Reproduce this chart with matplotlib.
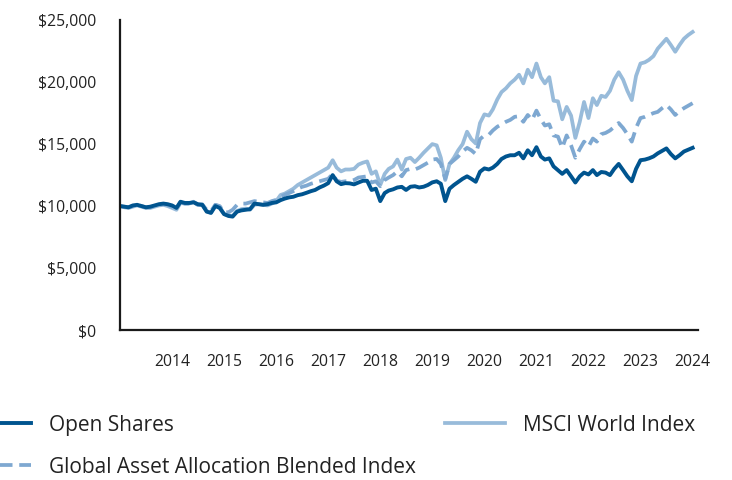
import pandas as pd
import matplotlib
matplotlib.use('Agg')
import matplotlib.pyplot as plt

plt.rcParams['font.family'] = ['Open Sans', 'DejaVu Sans']

# growth of $10,000, month-end values from Dec 2013
open_shares = [
    10000, 9950, 9900, 10050, 10100, 10000, 9900, 9950, 10050, 10150, 10200, 10150, 10050,
    9850, 10350, 10250, 10250, 10300, 10150, 10100, 9550, 9450, 10000, 9850, 9350, 9200,
    9150, 9550, 9650, 9700, 9750, 10200, 10150, 10100, 10150, 10250, 10300, 10480,
    10600, 10700, 10750, 10880, 10950, 11070, 11200, 11300, 11500, 11650, 11850, 12500,
    12000, 11770, 11850, 11830, 11750, 11900, 12040, 12040, 11300, 11400, 10400, 11050,
    11250, 11350, 11500, 11550, 11300, 11560, 11600, 11500, 11560, 11700, 11910, 12000, 11800, 10400,
    11400, 11700, 11950, 12200, 12400, 12200, 11960, 12770, 13040, 12950, 13100, 13400, 13800, 14000,
    14100, 14100, 14300, 13850, 14500, 14100, 14750, 14000, 13750, 13850, 13200, 12900, 12600, 12900,
    12400, 11900, 12400, 12700, 12550, 12900, 12500, 12750, 12700, 12500, 13000, 13400, 12900, 12400, 12000, 13000,
    13700, 13750, 13850, 14000, 14250, 14450, 14650, 14200, 13850, 14100, 14400, 14550, 14700,
]
msci_world = [
    10000, 9900, 9850, 9950, 10050, 9950, 9850, 9850, 9950, 10050, 10100, 10000, 9850,
    9700, 10250, 10200, 10200, 10350, 10100, 10150, 9600, 9450, 10100, 9950, 9350, 9250,
    9200, 9600, 9750, 9800, 9700, 10100, 10150, 10100, 10050, 10200, 10400, 10900,
    11000, 11200, 11400, 11700, 11900, 12100, 12300, 12500, 12700, 12900, 13100, 13700,
    13100, 12800, 12950, 12950, 13000, 13350, 13500, 13600, 12600, 12800, 11700, 12600,
    13000, 13200, 13750, 12950, 13800, 13900, 13550, 13900, 14300, 14650, 15000, 14900, 13900, 12100,
    13400, 13900, 14500, 15000, 16000, 15400, 15050, 16700, 17400, 17300, 17800, 18600, 19200, 19500,
    19900, 20200, 20600, 19900, 21000, 20400, 21500, 20400, 19900, 20400, 18500, 18450, 17000, 18000,
    17300, 15500, 16800, 18400, 17100, 18700, 18150, 18900, 18800, 19300, 20200, 20800, 20200, 19300, 18550, 20500,
    21500, 21600, 21800, 22100, 22700, 23100, 23500, 23000, 22450, 23000, 23500, 23800, 24050,
]
blended = [
    10000, 9950, 9900, 10000, 10100, 10000, 9900, 9900, 10000, 10100, 10150, 10100, 9950,
    9800, 10300, 10200, 10200, 10300, 10100, 10100, 9700, 9600, 10100, 10000, 9500, 9500,
    9700, 10100, 10200, 10200, 10300, 10400, 10350, 10300, 10250, 10400, 10500, 10750,
    10900, 11050, 11200, 11400, 11550, 11650, 11800, 11900, 12000, 12100, 12200, 12600,
    12050, 11950, 12000, 12000, 12100, 12300, 12350, 12400, 11900, 12000, 11600, 12100,
    12300, 12500, 12800, 12400, 12900, 13000, 12950, 13100, 13300, 13500, 13750, 13800, 13400, 12200,
    13400, 13700, 14000, 14400, 14700, 14500, 14200, 15400, 15700, 15750, 16100, 16400, 16600, 16800,
    16950, 17200, 17250, 16800, 17350, 16950, 17700, 17000, 16500, 16600, 15700, 15600, 14700, 15700,
    14900, 13900, 14600, 15200, 14800, 15450, 15200, 15800, 15900, 16100, 16400, 16700, 16300, 15800, 15200, 16300,
    17100, 17200, 17350, 17500, 17600, 17900, 18150, 17800, 17350, 17650, 17900, 18100, 18300,
]
years = list(range(2014, 2025))
y_ticks = [0, 5000, 10000, 15000, 20000, 25000]

dates = pd.date_range('2013-12-31', periods=len(open_shares), freq='ME')
df = pd.DataFrame({'open': open_shares, 'msci': msci_world, 'blend': blended}, index=dates)

dark = '#00548F'
light = '#98BBDA'
mid = '#7EA8D1'

fig = plt.figure(figsize=(7.32, 4.8), dpi=100)
ax = fig.add_axes([0.164, 0.3125, 0.79, 0.6455])

l_msci, = ax.plot(df.index, df['msci'], color=light, lw=2.7, label='MSCI World Index')
l_blend, = ax.plot(df.index, df['blend'], color=mid, lw=2.7, dashes=(3.6, 1.8),
                   label='Global Asset Allocation Blended Index')
l_open, = ax.plot(df.index, df['open'], color=dark, lw=2.8, label='Open Shares')

ax.set_ylim(0, 25000)
ax.set_xlim(dates[0], dates[-1] + pd.Timedelta(days=40))
ax.set_yticks(y_ticks)
ax.set_yticklabels(['${:,.0f}'.format(v) for v in y_ticks])
ax.set_xticks(pd.to_datetime([f'{y}-12-31' for y in years]))
ax.set_xticklabels([str(y) for y in years])
ax.tick_params(axis='both', length=0, labelsize=11.3, colors='#222222')
ax.tick_params(axis='y', pad=17)
ax.tick_params(axis='x', pad=17)

for side in ['top', 'right']:
    ax.spines[side].set_visible(False)
for side in ['left', 'bottom']:
    ax.spines[side].set_linewidth(1.6)
    ax.spines[side].set_color('#1a1a1a')

leg = fig.legend(handles=[l_open, l_blend, l_msci], ncol=2, frameon=False,
                 loc='upper left', bbox_to_anchor=(-0.04, 0.136),
                 fontsize=15, handlelength=2.9, handletextpad=0.85,
                 columnspacing=1.4, labelspacing=1.0, borderpad=0, borderaxespad=0)
for t in leg.get_texts():
    t.set_color('#222222')

fig.savefig('out.png', dpi=100)
